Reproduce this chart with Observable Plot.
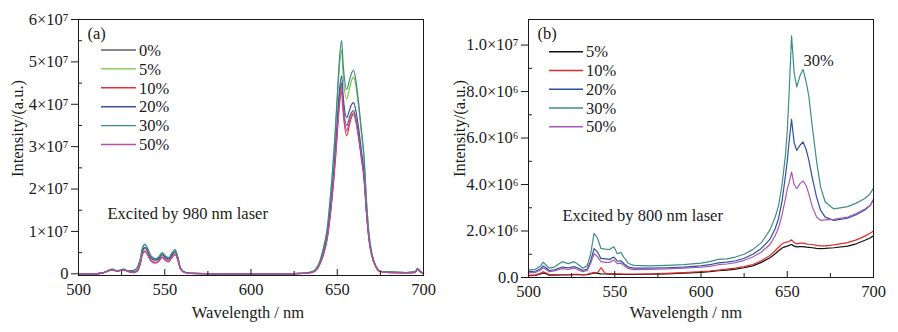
<!DOCTYPE html>
<html><head><meta charset="utf-8">
<script src="https://cdn.jsdelivr.net/npm/d3@7"></script>
<script src="https://cdn.jsdelivr.net/npm/@observablehq/plot@0.6"></script>
<style>
body{margin:0;background:#fff;}
#wrap{display:flex;width:898px;height:332px;overflow:hidden;}
</style></head><body><div id="wrap"></div>
<script>
// ---------- Panel (a): 980 nm excitation, intensity in units of 1e7 ----------
const wlA = [500,510,514,517,519.5,522.5,526,529,532,534,536,537,538.5,540,542,544.5,546.5,548.5,550.5,552.3,554,556,557.5,559,561,565,580,600,620,630,634,637,640,642,644,646,648,649,650,651,652.5,653.5,655.5,657,658,659.5,661,662.5,664,665.5,667,668.5,670,672,675,680,690,695,696.5,698,700];
const seriesA = ["0%","5%","10%","20%","30%","50%"];
const colorsA = ["#5c6170","#7cc242","#e8303a","#3a50a0","#3b8c88","#b050a8"];
const a0 = [0,0,0.02,0.07,0.10,0.07,0.10,0.07,0.08,0.15,0.38,0.55,0.62,0.55,0.38,0.32,0.35,0.45,0.38,0.34,0.43,0.52,0.38,0.14,0.05,0.01,
  0,0,0,0.01,0.03,0.07,
  0.26,0.50,0.84,1.48,2.35,2.88,3.45,4.05,4.50,3.98,3.50,3.68,3.79,3.85,3.63,3.25,2.78,2.30,1.45,0.80,0.45,0.20,
  0.06,0.04,0.03,0.04,0.11,0.06,0.01];
const a5 = [0,0,0.02,0.07,0.11,0.07,0.11,0.06,0.05,0.09,0.36,0.60,0.69,0.60,0.42,0.35,0.39,0.48,0.41,0.37,0.47,0.56,0.40,0.15,0.05,0.01,
  0,0,0,0.01,0.04,0.10,
  0.32,0.62,1.02,1.80,2.80,3.40,4.10,4.75,5.28,4.65,4.12,4.35,4.52,4.64,4.38,3.90,3.32,2.72,1.65,0.88,0.48,0.21,
  0.06,0.04,0.03,0.04,0.11,0.06,0.01];
const a10 = [0,0,0.02,0.06,0.09,0.06,0.09,0.05,0.03,0.06,0.26,0.45,0.52,0.45,0.30,0.25,0.29,0.38,0.31,0.28,0.37,0.45,0.33,0.12,0.04,0.01,
  0,0,0,0.01,0.02,0.06,
  0.23,0.45,0.78,1.38,2.22,2.72,3.30,3.85,4.30,3.78,3.26,3.50,3.66,3.76,3.55,3.17,2.72,2.25,1.40,0.77,0.43,0.19,
  0.05,0.03,0.02,0.03,0.10,0.05,0.01];
const a20 = [0,0,0.02,0.07,0.10,0.07,0.10,0.06,0.04,0.07,0.30,0.52,0.62,0.54,0.37,0.32,0.36,0.45,0.38,0.34,0.44,0.52,0.38,0.14,0.05,0.01,
  0,0,0,0.01,0.03,0.07,
  0.27,0.52,0.88,1.55,2.45,3.00,3.60,4.20,4.67,4.15,3.69,3.85,3.97,4.04,3.80,3.40,2.90,2.40,1.50,0.82,0.46,0.21,
  0.06,0.04,0.03,0.04,0.12,0.06,0.01];
const a30 = [0,0,0.02,0.07,0.11,0.07,0.11,0.06,0.04,0.08,0.35,0.60,0.70,0.60,0.42,0.36,0.40,0.50,0.42,0.38,0.48,0.57,0.40,0.15,0.05,0.01,
  0,0,0,0.01,0.03,0.08,
  0.30,0.60,1.00,1.80,2.85,3.50,4.20,4.90,5.50,4.90,4.35,4.55,4.70,4.80,4.50,4.00,3.40,2.80,1.70,0.90,0.50,0.22,
  0.06,0.04,0.03,0.04,0.12,0.06,0.01];
const a50 = [0,0,0.02,0.06,0.10,0.06,0.10,0.05,0.03,0.06,0.28,0.47,0.55,0.47,0.32,0.27,0.31,0.40,0.33,0.30,0.39,0.47,0.34,0.12,0.04,0.01,
  0,0,0,0.01,0.02,0.06,
  0.24,0.47,0.80,1.42,2.28,2.80,3.38,3.95,4.40,3.88,3.38,3.58,3.72,3.80,3.58,3.20,2.75,2.28,1.42,0.78,0.44,0.20,
  0.05,0.03,0.02,0.03,0.11,0.05,0.01];
const yTicksA = [0,1,2,3,4,5,6];
const yTickLabelsA = ["0","1×10⁷","2×10⁷","3×10⁷","4×10⁷","5×10⁷","6×10⁷"];
const yMinorA = [0.5,1.5,2.5,3.5,4.5,5.5];

// ---------- Panel (b): 800 nm excitation, intensity in units of 1e6 ----------
const wlB = [500,504,507,508.5,510,512,515,519.5,523,526.5,529,531.5,534,536,538,540,542,544.5,547,549.5,551.5,553.5,555.5,558,561,570,580,590,600,605,610,615,620,625,630,635,640,643,645,647,649,650,651,652.5,654,655.5,657.5,659.2,661,662.5,664.5,667,669.3,672,677,685,690,695,698,700];
const seriesB = ["5%","10%","20%","30%","50%"];
const colorsB = ["#111111","#e02a2a","#2e4e9e","#3f8c86","#a659b5"];
const b5 = [0.08,0.09,0.15,0.20,0.16,0.10,0.10,0.11,0.11,0.12,0.12,0.11,0.12,0.15,0.20,0.18,0.16,0.15,0.14,0.14,0.13,0.13,0.13,0.13,0.13,
  0.14,0.16,0.19,0.22,0.25,0.29,0.32,0.36,0.42,0.50,0.65,
  0.85,1.02,1.15,1.27,1.33,1.35,1.38,1.42,1.35,1.32,1.33,1.33,1.31,1.30,1.28,1.25,1.24,
  1.25,1.28,1.35,1.45,1.60,1.70,1.80];
const b10 = [0.10,0.11,0.18,0.25,0.20,0.13,0.12,0.13,0.13,0.14,0.14,0.13,0.14,0.18,0.22,0.20,0.42,0.18,0.17,0.17,0.16,0.16,0.15,0.15,0.15,
  0.16,0.18,0.21,0.25,0.28,0.32,0.36,0.40,0.47,0.56,0.72,
  0.95,1.15,1.30,1.45,1.52,1.52,1.55,1.62,1.50,1.45,1.48,1.48,1.45,1.43,1.42,1.38,1.36,
  1.36,1.40,1.50,1.62,1.78,1.90,2.00];
const b20 = [0.25,0.27,0.38,0.50,0.42,0.30,0.33,0.45,0.42,0.47,0.40,0.30,0.36,0.70,1.24,1.10,0.82,0.80,0.78,0.88,0.70,0.72,0.58,0.45,0.40,
  0.40,0.42,0.45,0.50,0.55,0.63,0.66,0.72,0.83,1.00,1.25,
  1.65,2.10,2.55,3.30,4.40,5.00,5.80,6.80,5.80,5.47,5.70,5.83,5.50,5.05,4.30,3.46,2.90,
  2.60,2.46,2.55,2.70,2.90,3.10,3.35];
const b30 = [0.32,0.35,0.50,0.66,0.55,0.40,0.45,0.68,0.60,0.68,0.55,0.40,0.50,1.00,1.90,1.70,1.25,1.22,1.20,1.32,1.02,1.08,0.85,0.60,0.52,
  0.50,0.52,0.55,0.62,0.68,0.78,0.80,0.88,1.00,1.20,1.50,
  2.05,2.60,3.10,4.00,5.30,6.30,7.80,10.40,8.80,8.20,8.70,8.95,8.40,7.80,6.50,5.00,3.90,
  3.25,2.95,3.05,3.20,3.40,3.60,3.85];
const b50 = [0.20,0.22,0.32,0.42,0.35,0.25,0.28,0.38,0.35,0.40,0.33,0.25,0.30,0.60,1.02,0.90,0.68,0.65,0.65,0.75,0.60,0.62,0.50,0.38,0.34,
  0.35,0.37,0.40,0.44,0.48,0.55,0.58,0.64,0.74,0.88,1.10,
  1.42,1.80,2.15,2.70,3.40,3.80,4.05,4.54,4.00,3.82,4.05,4.15,3.95,3.60,3.05,2.60,2.46,
  2.48,2.50,2.60,2.75,2.95,3.10,3.35];
const yTicksB = [0,2,4,6,8,10];
const yTickLabelsB = ["0.0","2.0×10⁶","4.0×10⁶","6.0×10⁶","8.0×10⁶","1.0×10⁷"];
const yMinorB = [1,3,5,7,9];

const xTicks = [500,550,600,650,700];
const xMinor = [525,575,625,675];

const FONT = "'Liberation Serif','Times New Roman',serif";
const FS = "16.5px";
const INK = "#1a1a1a";

function rows(wl, names, vals) {
  const out = [];
  names.forEach((s, k) => wl.forEach((w, i) => out.push({wl: w, v: vals[k][i], s})));
  return out;
}

function panel(o) {
  const fmt = d => o.yLabels[o.yTicks.indexOf(d)];
  const note = (txt, dx, dy) => Plot.text([txt], {frameAnchor: "top-left", dx, dy, textAnchor: "start", lineAnchor: "middle", fill: INK});
  const svg = Plot.plot({
    width: 449, height: 332,
    marginLeft: o.ml, marginRight: o.mr, marginTop: 19, marginBottom: o.mb,
    style: {fontFamily: FONT, fontSize: FS, color: INK, background: "white", overflow: "visible"},
    x: {domain: [500, 700]},
    y: {domain: o.yDomain},
    color: {domain: o.names, range: o.colors},
    marks: [
      Plot.line(o.data, {x: "wl", y: "v", z: "s", stroke: "s", strokeWidth: 1.2, curve: o.curve}),
      Plot.frame({stroke: INK, strokeWidth: 1}),
      Plot.axisX({ticks: xTicks, tickSize: 0, tickPadding: 8, label: null, tickFormat: d => String(d), fill: INK}),
      Plot.axisX({ticks: xTicks, tickSize: -6, label: null, tickFormat: () => "", stroke: INK}),
      Plot.axisX({ticks: xMinor, tickSize: -4, label: null, tickFormat: () => "", stroke: INK}),
      Plot.axisY({ticks: o.yTicks, tickSize: 7, tickPadding: 3, label: null, tickFormat: fmt, fill: INK, stroke: INK}),
      Plot.axisY({ticks: o.yMinor, tickSize: -4, label: null, tickFormat: () => "", stroke: INK}),
      Plot.text(["Intensity/(a.u.)"], {frameAnchor: "left", rotate: -90, dx: o.ytdx, dy: o.ytdy, textAnchor: "middle", lineAnchor: "middle", fill: INK}),
      Plot.text(["Wavelength / nm"], {frameAnchor: "bottom", dx: o.xtdx, dy: o.xtdy, textAnchor: "middle", lineAnchor: "middle", fill: INK}),
      note(o.tag, 9, 14),
      note(o.note, o.ndx, o.ndy),
      ...(o.extra || []).map(e => note(e[0], e[1], e[2]))
    ]
  });
  // legend (inside frame, top-left)
  const g = d3.select(svg).append("g").attr("font-family", FONT).attr("font-size", FS).attr("text-anchor", "start");
  o.names.forEach((n, i) => {
    const y = o.legY0 + i * o.legStep;
    g.append("line").attr("x1", o.legX0).attr("x2", o.legX1).attr("y1", y).attr("y2", y)
      .attr("stroke", o.colors[i]).attr("stroke-width", 1.4);
    g.append("text").attr("x", o.legX1 + 3).attr("y", y).attr("dy", "0.35em").attr("fill", INK).text(n);
  });
  return svg;
}

const left = panel({
  data: rows(wlA, seriesA, [a0, a5, a10, a20, a30, a50]),
  names: seriesA, colors: colorsA,
  yDomain: [-0.04, 6], yTicks: yTicksA, yLabels: yTickLabelsA, yMinor: yMinorA,
  ml: 78, mr: 26, mb: 57, curve: "monotone-x",
  ytdx: -61, ytdy: -19, xtdx: -3, xtdy: 37,
  tag: "(a)", note: "Excited by 980 nm laser", ndx: 29, ndy: 194,
  legX0: 101, legX1: 136, legY0: 50, legStep: 18.9
});
const right = panel({
  data: rows(wlB, seriesB, [b5, b10, b20, b30, b50]),
  names: seriesB, colors: colorsB,
  yDomain: [0, 11.1], yTicks: yTicksB, yLabels: yTickLabelsB, yMinor: yMinorB,
  ml: 79, mr: 25, mb: 55, curve: "linear",
  ytdx: -69, ytdy: -20, xtdx: -15, xtdy: 35,
  tag: "(b)", note: "Excited by 800 nm laser", ndx: 34, ndy: 196,
  legX0: 100, legX1: 134, legY0: 51.7, legStep: 18.75,
  extra: [["30%", 275, 41]]
});
document.getElementById("wrap").append(left, right);
</script></body></html>
